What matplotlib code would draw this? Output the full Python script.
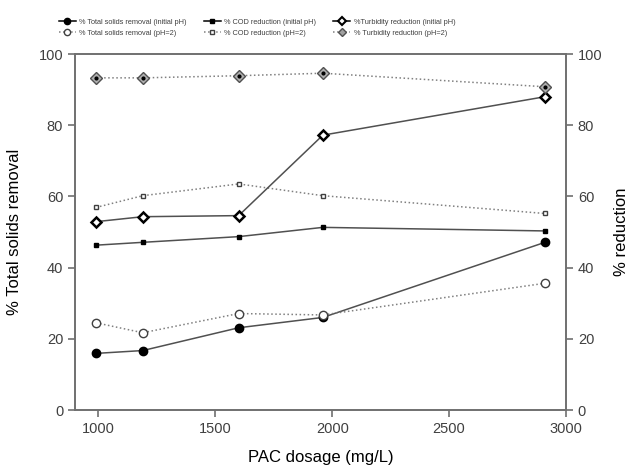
import matplotlib
matplotlib.use("Agg")
import matplotlib.pyplot as plt
from matplotlib.lines import Line2D

plt.rcParams['font.family'] = ['Liberation Sans', 'DejaVu Sans']

dosage = [990, 1190, 1600, 1960, 2910]
ts_initial = [15.9, 16.7, 23.1, 26.0, 47.1]
ts_ph2 = [24.5, 21.7, 27.1, 26.7, 35.6]
cod_initial = [46.3, 47.1, 48.7, 51.3, 50.3]
cod_ph2 = [56.9, 60.2, 63.5, 60.2, 55.2]
turb_initial = [52.9, 54.3, 54.6, 77.2, 88.0]
turb_ph2 = [93.3, 93.3, 93.9, 94.6, 90.8]

xticks = [1000, 1500, 2000, 2500, 3000]
yticks = [0, 20, 40, 60, 80, 100]

fig = plt.figure(figsize=(6.31, 4.69), dpi=100)
ax = fig.add_axes([75/631, 1 - 410/469, (566-75)/631, (410-54)/469])
ax2 = ax.twinx()

axc = '#707070'
lc = '#505050'

ax.plot(dosage, ts_initial, '-', color=lc, lw=1.1, marker='o', ms=6, mfc='black', mec='black', zorder=5)
ax.plot(dosage, ts_ph2, ':', color='#808080', lw=1.1, marker='o', ms=6, mfc='white', mec='#404040', mew=1.0, zorder=5)
ax.plot(dosage, cod_initial, '-', color=lc, lw=1.1, marker='s', ms=3.5, mfc='black', mec='black', zorder=5)
ax.plot(dosage, cod_ph2, ':', color='#808080', lw=1.1, marker='s', ms=3.5, mfc='white', mec='#404040', mew=1.0, zorder=5)
ax.plot(dosage, turb_initial, '-', color=lc, lw=1.1, marker='D', ms=5.5, mfc='white', mec='black', mew=1.8, zorder=5)
ax.plot(dosage, turb_ph2, ':', color='#808080', lw=1.1, marker='D', ms=6, mfc='#b0b0b0', mec='#505050', mew=1.0, zorder=5)
ax.plot(dosage, turb_ph2, 'none', marker='o', ms=2, mfc='black', mec='black', zorder=6)

for a in (ax, ax2):
    a.set_xlim(900, 3000)
    a.set_ylim(0, 100)
    for s in a.spines.values():
        s.set_color(axc)
        s.set_linewidth(1.2)
    a.tick_params(direction='out', colors=axc, labelcolor='#404040', labelsize=10.5, length=5, width=1.2)

ax.set_xticks(xticks)
ax.set_yticks(yticks)
ax2.set_yticks(yticks)
ax.set_xlabel('PAC dosage (mg/L)', fontsize=12, labelpad=10)
ax.set_ylabel('% Total solids removal', fontsize=12, labelpad=12)
ax2.set_ylabel('% reduction', fontsize=12, labelpad=8)

handles = [
    Line2D([], [], ls='-', color='black', lw=1.1, marker='o', ms=4.5, mfc='black', mec='black'),
    Line2D([], [], ls=':', color='#808080', lw=1.1, marker='o', ms=4.5, mfc='white', mec='#404040'),
    Line2D([], [], ls='-', color='black', lw=1.1, marker='s', ms=3, mfc='black', mec='black'),
    Line2D([], [], ls=':', color='#808080', lw=1.1, marker='s', ms=3, mfc='white', mec='#404040'),
    Line2D([], [], ls='-', color='black', lw=1.1, marker='D', ms=4.5, mfc='white', mec='black', mew=1.5),
    Line2D([], [], ls=':', color='#808080', lw=1.1, marker='D', ms=4.5, mfc='#a0a0a0', mec='#505050'),
]
labels = ['% Total solids removal (initial pH)', '% Total solids removal (pH=2)',
          '% COD reduction (initial pH)', '% COD reduction (pH=2)',
          '%Turbidity reduction (initial pH)', '% Turbidity reduction (pH=2)']
fig.legend(handles, labels, ncol=3, loc='upper left', bbox_to_anchor=(52/631, 0.975),
           frameon=False, fontsize=5.3, handlelength=2.3, columnspacing=2.3,
           labelspacing=0.6, handletextpad=0.5, labelcolor='#404040')

fig.savefig('out.png', dpi=100)
